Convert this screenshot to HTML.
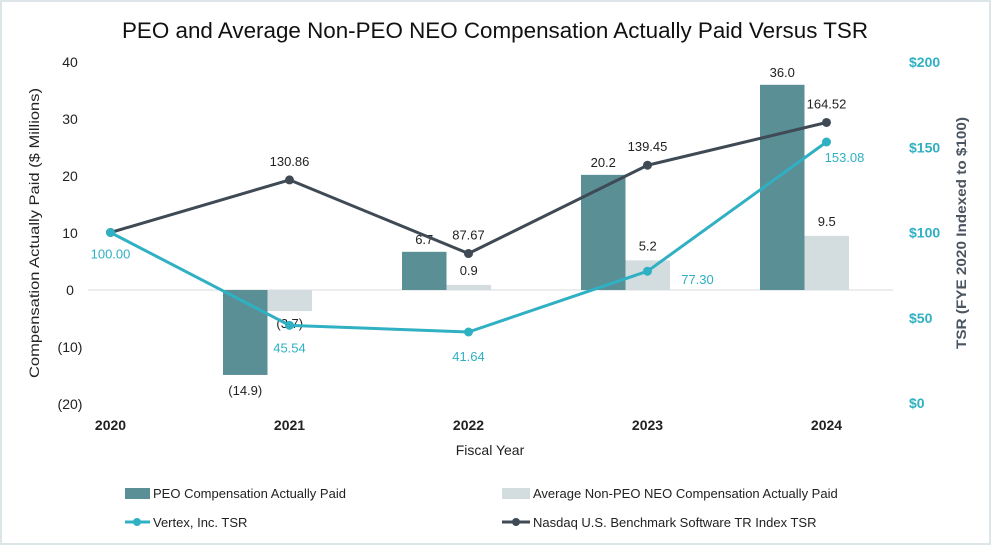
<!DOCTYPE html>
<html><head><meta charset="utf-8"><style>
html,body{margin:0;padding:0;background:#fff;}
svg{display:block;font-family:"Liberation Sans",Arial,sans-serif;}
</style></head><body>
<svg id="chart" width="992" height="546" viewBox="0 0 992 546">
<rect x="1" y="1" width="989" height="543" fill="#fff" stroke="#dde5e9" stroke-width="2"/>
<text x="495" y="38" text-anchor="middle" font-size="22" fill="#111" textLength="746" lengthAdjust="spacingAndGlyphs">PEO and Average Non-PEO NEO Compensation Actually Paid Versus TSR</text>
<g id="axes"></g>
<g id="marks"></g>
<text x="490" y="455" text-anchor="middle" font-size="14" fill="#222">Fiscal Year</text>
<text transform="translate(39,233) rotate(-90)" text-anchor="middle" font-size="14" fill="#222" textLength="290" lengthAdjust="spacingAndGlyphs">Compensation Actually Paid ($ Millions)</text>
<text transform="translate(966,233) rotate(-90)" text-anchor="middle" font-size="14" font-weight="bold" fill="#4a5560" textLength="232" lengthAdjust="spacingAndGlyphs">TSR (FYE 2020 Indexed to $100)</text>
<g>
<rect x="125" y="488" width="25" height="11" fill="#5a8f96"/>
<text x="153" y="498" font-size="13" fill="#222">PEO Compensation Actually Paid</text>
<rect x="502" y="488" width="28" height="11" fill="#d3dde0"/>
<text x="533" y="498" font-size="13" fill="#222">Average Non-PEO NEO Compensation Actually Paid</text>
<line x1="125" y1="522" x2="150" y2="522" stroke="#2fb0c3" stroke-width="3"/>
<circle cx="137" cy="522" r="4" fill="#2fb0c3"/>
<text x="153" y="527" font-size="13" fill="#222">Vertex, Inc. TSR</text>
<line x1="502" y1="522" x2="530" y2="522" stroke="#3f4a55" stroke-width="3"/>
<circle cx="516" cy="522" r="4" fill="#3f4a55"/>
<text x="533" y="527" font-size="13" fill="#222">Nasdaq U.S. Benchmark Software TR Index TSR</text>
</g>
</svg>
<script>
const years = ["2020","2021","2022","2023","2024"];
const peoValues = [null, -14.9, 6.7, 20.2, 36.0];
const nonPeoValues = [null, -3.7, 0.9, 5.2, 9.5];
const vertexTSR = [100.00, 45.54, 41.64, 77.30, 153.08];
const nasdaqTSR = [100.00, 130.86, 87.67, 139.45, 164.52];
const leftTicks = [40, 30, 20, 10, 0, -10, -20];
const rightTicks = [200, 150, 100, 50, 0];

const NS = "http://www.w3.org/2000/svg";
function yL(v){ return 290 - v * 5.7; }
function yR(v){ return 403 - v * 1.705; }
function xC(i){ return 88.5 + 179 * i; }
function xP(i){ return xC(i) + 22; }
const BW = 44.5;
const vLabDx = [0, 0, 0, 50, 18];
const vLabDy = [26, 27, 29, 13, 20];
function mk(tag, attrs, parent, txt){
  const e = document.createElementNS(NS, tag);
  for (const k in attrs) e.setAttribute(k, attrs[k]);
  if (txt !== undefined) e.textContent = txt;
  parent.appendChild(e);
  return e;
}
function fmtL(v){ return v < 0 ? "(" + Math.abs(v) + ")" : String(v); }
function fmtB(v){ return v < 0 ? "(" + Math.abs(v).toFixed(1) + ")" : v.toFixed(1); }
const axes = document.getElementById("axes");
const marks = document.getElementById("marks");

let e = mk("line", {x1:88, x2:893, y1:yL(0), y2:yL(0), stroke:"#d6dadd", "stroke-width":1}, axes);



leftTicks.forEach(t => {
  const el = mk("text", {x:70, y:yL(t)+5, "text-anchor":"middle", "font-size":14, fill:"#222"}, axes, fmtL(t));
  
  
});
rightTicks.forEach(t => {
  const el = mk("text", {x:909, y:yR(t)+5, "font-size":14, "font-weight":"bold", fill:"#2fb0c3"}, axes, "$" + t);
  
  
});
years.forEach((y, i) => {
  const el = mk("text", {x:xP(i), y:430, "text-anchor":"middle", "font-size":14, "font-weight":"bold", fill:"#222"}, axes, y);
  
  
});

years.forEach((y, i) => {
  const p = peoValues[i], n = nonPeoValues[i];
  if (p !== null) {
    const b = mk("rect", {x:xC(i)-BW, y:Math.min(yL(p), yL(0)), width:BW, height:Math.abs(yL(p)-yL(0)), fill:"#5a8f96"}, marks);
    
    
    const ly = p >= 0 ? yL(p) - 8 : yL(p) + 20;
    const l = mk("text", {x:xC(i)-BW/2, y:ly, "text-anchor":"middle", "font-size":13, fill:"#222"}, marks, fmtB(p));
    
    
  }
  if (n !== null) {
    const b = mk("rect", {x:xC(i), y:Math.min(yL(n), yL(0)), width:BW, height:Math.abs(yL(n)-yL(0)), fill:"#d3dde0"}, marks);
    
    
    const ly = n >= 0 ? yL(n) - 10 : yL(n) + 17;
    const l = mk("text", {x:xC(i)+BW/2, y:ly, "text-anchor":"middle", "font-size":13, fill:"#222"}, marks, fmtB(n));
    
    
  }
});

function series(vals, color, name, labelFn){
  const pts = vals.map((v, i) => xP(i) + "," + yR(v)).join(" ");
  const pl = mk("polyline", {points:pts, fill:"none", stroke:color, "stroke-width":3, "stroke-linejoin":"round"}, marks);
  
  
  vals.forEach((v, i) => {
    const c = mk("circle", {cx:xP(i), cy:yR(v), r:4.5, fill:color}, marks);
    
    
    labelFn(v, i);
  });
}
series(nasdaqTSR, "#3f4a55", "nasdaq-tsr", (v, i) => {
  if (i === 0) return;
  const l = mk("text", {x:xP(i), y:yR(v)-14, "text-anchor":"middle", "font-size":13, fill:"#222"}, marks, v.toFixed(2));
  
  
});
series(vertexTSR, "#2fb0c3", "vertex-tsr", (v, i) => {
  const l = mk("text", {x:xP(i)+vLabDx[i], y:yR(v)+vLabDy[i], "text-anchor":"middle", "font-size":13, fill:"#2fb0c3"}, marks, v.toFixed(2));
  
  
});
</script>
</body></html>
